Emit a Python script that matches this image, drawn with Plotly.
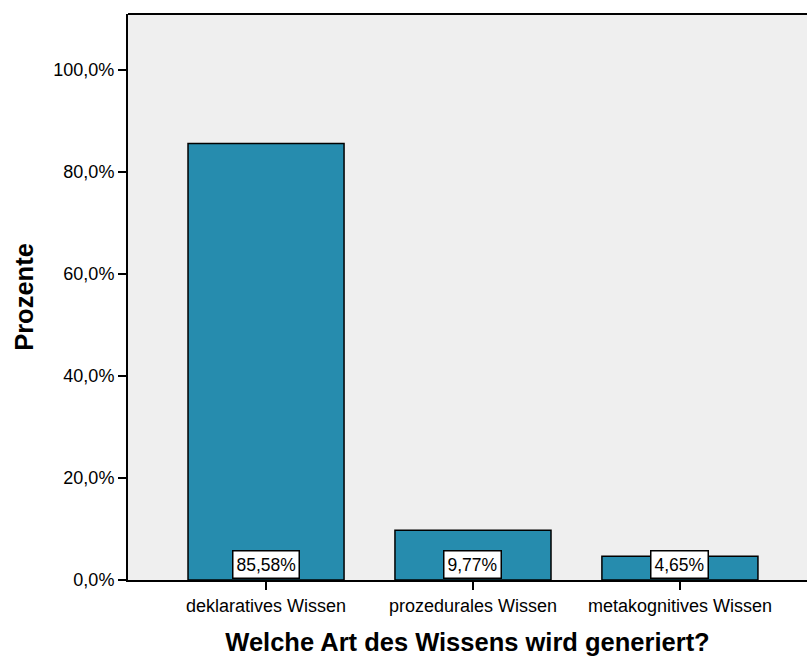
import plotly.graph_objects as go

categories = ["deklaratives Wissen", "prozedurales Wissen", "metakognitives Wissen"]
percent = [85.58, 9.77, 4.65]
y_ticks = [0, 20, 40, 60, 80, 100]
y_tick_labels = ["0,0%", "20,0%", "40,0%", "60,0%", "80,0%", "100,0%"]

font = "Liberation Sans, Arial, sans-serif"

fig = go.Figure(
    go.Bar(
        x=categories,
        y=percent,
        width=0.754,
        marker=dict(color="#268cae", line=dict(color="black", width=1.5)),
        hoverinfo="skip",
    )
)

for cat, val in zip(categories, percent):
    fig.add_annotation(
        x=cat,
        y=0,
        yanchor="bottom",
        yshift=1,
        text=f"{val:.2f}%".replace(".", ","),
        showarrow=False,
        bgcolor="white",
        bordercolor="black",
        borderwidth=1.5,
        borderpad=3,
        font=dict(family=font, size=17.5, color="black"),
    )

# top border of the plot frame
fig.add_shape(type="line", xref="paper", yref="paper", x0=0, x1=1, y0=1, y1=1,
              line=dict(color="black", width=2))

fig.update_layout(
    width=807,
    height=656,
    margin=dict(l=128, r=0, t=14, b=76),
    paper_bgcolor="white",
    plot_bgcolor="#efefef",
    showlegend=False,
    font=dict(family=font, size=18, color="black"),
    xaxis=dict(
        range=[-0.667, 2.614],
        showline=True,
        linecolor="black",
        linewidth=2,
        ticks="outside",
        ticklen=8,
        tickwidth=2,
        tickcolor="black",
        title=dict(text="<b>Welche Art des Wissens wird generiert?</b>",
                   font=dict(size=25.5), standoff=21),
    ),
    yaxis=dict(
        range=[0, 111],
        tickvals=y_ticks,
        ticktext=y_tick_labels,
        showgrid=False,
        zeroline=False,
        showline=True,
        linecolor="black",
        linewidth=2,
        ticks="outside",
        ticklen=8,
        tickwidth=2,
        tickcolor="black",
        title=dict(text="<b>Prozente</b>", font=dict(size=25.5), standoff=12),
    ),
)

# drop the page's default body margin so the figure sits at the window origin
fig.write_html("out.html", config={"displayModeBar": False},
               post_script="document.body.style.margin='0';")
